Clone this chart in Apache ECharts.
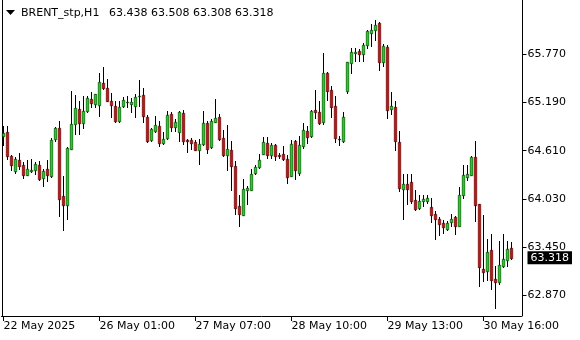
<!DOCTYPE html>
<html><head><meta charset="utf-8">
<script src="https://cdn.jsdelivr.net/npm/echarts@6/dist/echarts.min.js"></script>
<style>html,body{margin:0;padding:0;background:#fff}#c{width:580px;height:340px}</style>
</head><body><div id="c"></div>
<script>
const symbolName = 'BRENT_stp,H1';
const opens = [64.788,64.840,64.544,64.364,64.500,64.440,64.320,64.368,64.380,64.440,
64.284,64.384,64.303,64.752,64.884,64.059,63.960,64.632,64.932,65.112,
64.944,65.084,65.232,65.168,65.160,65.424,65.364,65.212,65.152,64.964,
65.144,65.196,65.172,65.152,65.268,65.280,65.020,64.744,64.852,64.912,
64.700,64.764,65.052,64.891,64.832,65.064,64.740,64.740,64.711,64.620,
64.692,64.944,64.651,64.960,65.020,64.764,64.560,64.620,64.428,63.948,
63.840,64.140,64.140,64.340,64.411,64.572,64.704,64.552,64.680,64.560,
64.572,64.512,64.308,64.723,64.340,64.663,64.848,64.786,65.104,65.076,
64.956,65.548,65.344,65.144,64.756,64.732,65.332,65.664,65.780,65.812,
65.772,65.884,66.032,66.061,66.148,65.672,65.860,65.107,65.136,64.714,
64.152,64.212,64.227,64.020,63.919,64.003,64.003,63.927,63.852,63.792,
63.735,63.667,63.747,63.807,63.707,64.080,64.291,64.320,64.528,63.963,
63.183,63.163,63.408,63.063,63.023,63.222,63.299,63.438];
const highs = [64.903,64.912,64.558,64.531,64.584,64.472,64.492,64.512,64.472,64.480,
64.392,64.492,64.764,64.891,64.972,64.300,64.654,65.332,65.280,65.212,
65.272,65.272,65.320,65.298,65.540,65.612,65.472,65.300,65.212,65.212,
65.252,65.272,65.244,65.292,65.464,65.364,65.044,64.888,65.032,64.972,
64.832,65.084,65.072,64.992,65.088,65.100,64.752,64.764,64.740,64.752,
65.092,64.972,64.996,65.232,65.052,64.860,64.924,64.732,64.480,64.071,
64.263,64.179,64.384,64.432,64.572,64.780,64.780,64.700,64.692,64.579,
64.660,64.552,64.744,64.744,64.792,64.944,64.912,65.104,65.344,65.212,
65.780,65.554,65.392,65.272,64.783,65.080,65.678,65.844,65.844,65.832,
65.904,66.064,66.132,66.184,66.160,65.892,65.884,65.320,65.212,64.852,
64.324,64.324,64.324,64.131,64.071,64.071,64.071,64.039,63.883,63.811,
63.779,63.759,63.852,63.819,64.171,64.432,64.432,64.540,64.732,63.969,
63.831,63.552,63.603,63.219,63.519,63.603,63.519,63.508];
const lows = [64.680,64.507,64.372,64.340,64.392,64.284,64.312,64.352,64.332,64.251,
64.183,64.243,64.291,64.732,63.823,63.659,63.792,64.624,64.812,64.812,
64.880,65.072,65.132,65.132,65.032,65.356,65.204,65.012,64.960,64.956,
65.132,65.132,65.072,65.012,65.152,64.960,64.720,64.732,64.832,64.672,
64.692,64.756,64.852,64.852,64.732,64.692,64.592,64.632,64.612,64.452,
64.684,64.579,64.644,64.951,64.744,64.540,64.372,64.140,63.852,63.699,
63.831,63.972,64.131,64.332,64.404,64.564,64.524,64.524,64.500,64.524,
64.492,64.219,64.300,64.272,64.320,64.644,64.700,64.780,65.004,64.932,
64.932,65.220,65.012,64.711,64.680,64.720,65.300,65.540,65.692,65.692,
65.692,65.852,65.872,65.940,65.580,65.632,65.004,65.052,64.618,64.125,
63.789,63.972,63.979,63.901,63.903,63.943,63.979,63.751,63.552,63.599,
63.624,63.659,63.703,63.611,63.699,64.043,64.260,64.312,63.763,62.983,
63.043,63.051,62.943,62.711,63.003,63.203,63.219,63.308];
const closes = [64.828,64.544,64.440,64.512,64.420,64.320,64.392,64.372,64.452,64.272,
64.368,64.320,64.744,64.884,64.032,63.960,64.644,64.932,65.124,64.944,
65.092,65.244,65.184,65.292,65.440,65.364,65.212,65.160,64.972,65.132,
65.224,65.200,65.192,65.260,65.272,65.024,64.732,64.872,64.924,64.700,
64.752,65.044,64.891,64.960,65.080,64.732,64.723,64.700,64.620,64.692,
64.940,64.632,64.972,65.004,64.752,64.552,64.632,64.423,63.924,63.852,
64.152,64.159,64.332,64.411,64.500,64.720,64.552,64.684,64.540,64.544,
64.512,64.291,64.692,64.380,64.680,64.860,64.772,65.092,65.076,64.940,
65.548,65.332,65.132,64.759,64.752,65.020,65.672,65.800,65.804,65.772,
65.884,66.052,66.061,66.121,65.672,65.872,65.100,65.148,64.723,64.161,
64.212,64.147,63.999,63.907,64.003,64.023,64.035,63.840,63.787,63.727,
63.691,63.744,63.792,63.707,64.071,64.312,64.324,64.528,63.960,63.203,
63.143,63.384,63.051,63.031,63.231,63.311,63.431,63.318];
const tickIndex = [0, 24, 48, 72, 96, 120];
const tickLabels = ['22 May 2025','26 May 01:00','27 May 07:00','28 May 10:00','29 May 13:00','30 May 16:00'];
const priceTicks = [62.870, 63.450, 64.030, 64.610, 65.190, 65.770];

const FONT = '"DejaVu Sans"';
const BULL = '#00e600', BEAR = '#f00000';
const emptyBars = 2;
const n = opens.length;
const cats = [];
for (let i = 0; i < n + emptyBars; i++) cats.push(String(i));
const candles = opens.map((o, i) => [i, o, closes[i], lows[i], highs[i]]);
const last = n - 1;
const header = [opens[last], highs[last], lows[last], closes[last]].map(v => v.toFixed(3)).join(' ');
const isTick = (idx) => tickIndex.indexOf(idx) >= 0;

function renderCandle(params, api) {
  const i = api.value(0);
  const o = api.value(1), c = api.value(2), l = api.value(3), h = api.value(4);
  const pO = api.coord([i, o]), pC = api.coord([i, c]);
  const pL = api.coord([i, l]), pH = api.coord([i, h]);
  const px = Math.floor(pO[0]);
  const yTop = Math.round(Math.min(pO[1], pC[1]));
  const yBot = Math.round(Math.max(pO[1], pC[1]));
  const yH = Math.round(pH[1]);
  const yL = Math.round(pL[1]);
  return {
    type: 'group',
    children: [
      {type: 'line', shape: {x1: px + 0.5, y1: yH, x2: px + 0.5, y2: yL + 1},
        style: {stroke: '#000', lineWidth: 1}},
      {type: 'rect', shape: {x: px - 0.75, y: yTop + 0.25, width: 2.5, height: Math.max(0.5, yBot - yTop + 0.5)},
        style: {fill: c >= o ? BULL : BEAR, stroke: '#000', lineWidth: 0.5}}
    ]
  };
}

const chart = echarts.init(document.getElementById('c'), null, {renderer: 'canvas'});
chart.setOption({
  animation: false,
  backgroundColor: '#fff',
  grid: {left: 1.5, right: 58.5, top: -1, bottom: 24, containLabel: false},
  xAxis: {
    type: 'category', data: cats, boundaryGap: true,
    axisLine: {show: true, lineStyle: {color: '#000', width: 1}},
    axisTick: {show: true, alignWithLabel: true, interval: isTick, length: 5, lineStyle: {color: '#000'}},
    axisLabel: {show: true, interval: isTick, align: 'left', margin: 5, color: '#000', fontFamily: FONT, fontSize: 11,
      formatter: (v) => { const j = tickIndex.indexOf(Number(v)); return j >= 0 ? tickLabels[j] : ''; }},
    splitLine: {show: false}
  },
  yAxis: [{
    type: 'value', position: 'right', min: 62.6187, max: 66.4243, offset: 1,
    axisLine: {show: true, onZero: false, lineStyle: {color: '#000', width: 1}},
    axisTick: {show: true, length: 4, customValues: priceTicks, lineStyle: {color: '#000'}},
    axisLabel: {show: true, customValues: priceTicks, margin: 5, color: '#000', fontFamily: FONT, fontSize: 11,
      formatter: v => Number(v).toFixed(3)},
    splitLine: {show: false}
  }, {
    type: 'value', position: 'left', min: 62.6187, max: 66.4243, offset: -1,
    axisLine: {show: true, onZero: false, lineStyle: {color: '#000', width: 1}},
    axisTick: {show: false}, axisLabel: {show: false}, splitLine: {show: false}
  }],
  series: [{
    type: 'custom', data: candles, yAxisIndex: 0, clip: true,
    encode: {x: 0, y: [1, 2, 3, 4]},
    renderItem: renderCandle,
    markLine: {
      silent: true, symbol: ['none', 'none'], animation: false,
      lineStyle: {color: 'rgba(0,0,0,0)', width: 0},
      label: {show: true, position: 'end', distance: 6, formatter: () => closes[last].toFixed(3),
        backgroundColor: '#000', color: '#fff', padding: [1, 3, 0, 3], fontFamily: FONT, fontSize: 11, lineHeight: 12},
      data: [{yAxis: closes[last]}]
    }
  }],
  graphic: [
    {type: 'polygon', shape: {points: [[6, 10], [15, 10], [10.5, 15]]}, style: {fill: '#000'}},
    {type: 'text', x: 21, y: 13, style: {text: symbolName, fill: '#000', font: '11px ' + FONT, verticalAlign: 'middle'}},
    {type: 'text', x: 109, y: 13, style: {text: header, fill: '#000', font: '11px ' + FONT, verticalAlign: 'middle'}}
  ]
});
</script>
</body></html>
